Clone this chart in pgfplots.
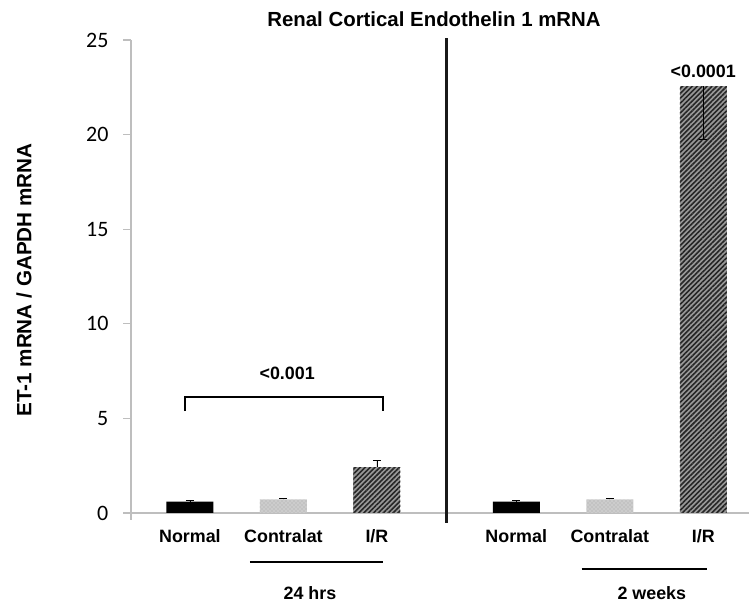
\documentclass[border=0pt]{standalone}
\usepackage{fontspec}
\setmainfont{Liberation Sans}
\newfontfamily\calibri{Carlito}
\usepackage{pgfplots}
\pgfplotsset{compat=1.18}
\usetikzlibrary{patterns,patterns.meta}
\definecolor{axgray}{HTML}{BEBEBE}
\newcommand{\lab}{\bfseries\fontsize{13.4}{13.4}\selectfont}
\begin{document}
\begin{tikzpicture}
\useasboundingbox (-98pt,-70.5pt) rectangle (464.5pt,384.75pt);
\begin{axis}[
  at={(0,0)}, anchor=south west,
  x=70.125pt, y=14.19pt,
  xmin=-0.634, xmax=5.98, ymin=0, ymax=25,
  axis lines*=left,
  axis line style={draw=axgray, line width=1.3pt},
  ytick={0,5,10,15,20,25},
  xtick={0,1,2,3.49,4.49,5.49},
  xticklabels={Normal,Contralat,I/R,Normal,Contralat,I/R},
  x tick style={draw=none},
  y tick style={draw=axgray, line width=1pt},
  tick align=outside, major tick length=5.5pt,
  /pgf/number format/assume math mode=true,
  yticklabel style={font=\calibri\fontsize{16.5}{16.5}\selectfont, anchor=east, inner sep=0pt, xshift=-11pt},
  xticklabel style={font=\lab, anchor=base, inner sep=0pt, yshift=-16.5pt},
  ylabel={ET-1 mRNA / GAPDH mRNA},
  ylabel style={font=\bfseries\fontsize{15.5}{15.5}\selectfont, at={(axis description cs:-0.1725,0.4925)}, anchor=center},
  ybar, bar width=35.25pt, bar shift=0pt,
  error bars/y explicit,
  error bars/error bar style={black, line width=0.6pt},
  error bars/error mark options={black, mark size=3pt, line width=0.6pt, rotate=90},
  irstyle/.style={fill=black!40, draw=none, postaction={pattern={Lines[angle=45,distance=2.6pt,line width=1.2pt]}, pattern color=black!85}},
]
\addplot[fill=black, draw=none, error bars/y dir=plus] coordinates {(0,0.6) +- (0,0.07) (3.49,0.6) +- (0,0.07)};
\addplot[fill=black!20, draw=none, postaction={pattern=crosshatch dots, pattern color=black!35}, error bars/y dir=plus] coordinates {(1,0.72) +- (0,0.06) (4.49,0.72) +- (0,0.06)};
\addplot[irstyle, error bars/y dir=plus] coordinates {(2,2.42) +- (0,0.35)};
\addplot[irstyle, error bars/y dir=minus] coordinates {(5.49,22.55) +- (0,2.8)};

\node[font=\lab] at (axis cs:1.04,7.4) {<0.001};
\node[font=\lab] at (axis cs:5.49,23.32) {<0.0001};
\draw[line width=1.5pt] (axis cs:-0.053,5.39) |- (axis cs:2.064,6.15) -- (axis cs:2.064,5.39);

\coordinate (sepT) at (axis cs:2.745,25.1);
\coordinate (sepB) at (axis cs:2.745,-0.53);
\coordinate (u1a) at (axis cs:0.642,-2.59);
\coordinate (u1b) at (axis cs:2.064,-2.59);
\coordinate (u2a) at (axis cs:4.19,-2.96);
\coordinate (u2b) at (axis cs:5.53,-2.96);
\coordinate (g1) at (axis cs:1.283,-4.55);
\coordinate (g2) at (axis cs:4.94,-4.55);
\coordinate (ttl) at (axis cs:2.61,25.69);
\end{axis}
\draw[line width=1.9pt, black!90] (sepT) -- (sepB);
\draw[axgray, line width=1.3pt] (0,0) -- (0,-5pt);
\draw[line width=1.5pt] (u1a) -- (u1b);
\draw[line width=1.5pt] (u2a) -- (u2b);
\node[font=\lab, anchor=base] at (g1) {24 hrs};
\node[font=\lab, anchor=base] at (g2) {2 weeks};
\node[font=\bfseries\fontsize{15.3}{15.3}\selectfont, anchor=base] at (ttl) {Renal Cortical Endothelin 1 mRNA};
\end{tikzpicture}
\end{document}
